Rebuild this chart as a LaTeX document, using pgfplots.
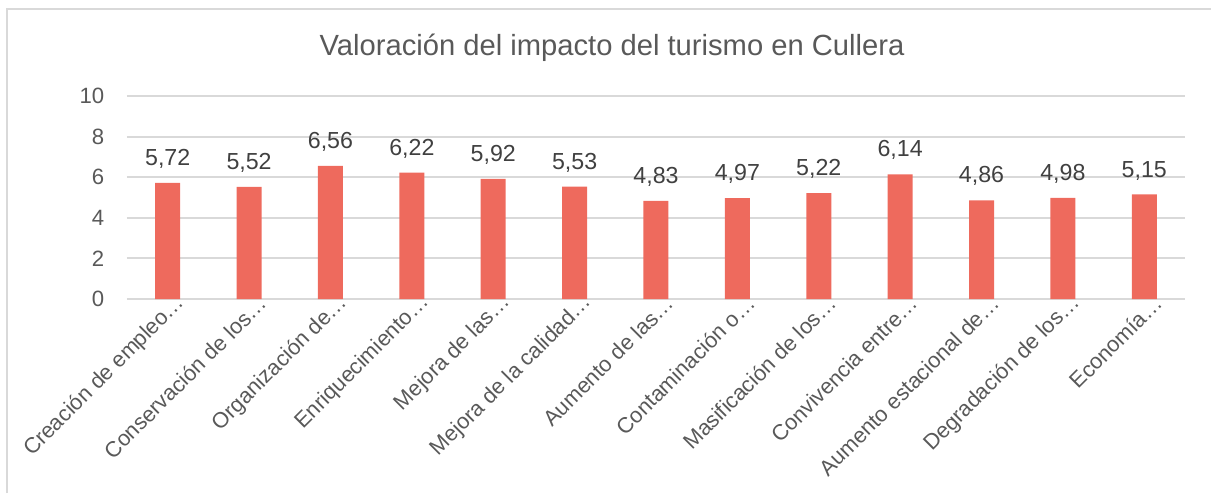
\documentclass[border=0pt]{standalone}
\usepackage{pgfplots}
\pgfplotsset{compat=1.18}
\usepackage{fontspec}
\setmainfont{Liberation Sans}
\definecolor{barred}{HTML}{EE6A5D}
\definecolor{txtgray}{HTML}{595959}
\definecolor{gridgray}{HTML}{D9D9D9}

\begin{document}
\begin{tikzpicture}[x=1cm,y=1cm]
  % picture is 1211 x 493 px, 1 px = 0.01 cm
  \useasboundingbox (0,0) rectangle (12.11,4.93);
  \draw[gridgray, line width=0.6pt] (0.07,0) -- (0.07,4.84) -- (12.2,4.84);
  \node[txtgray, font=\fontsize{8.3}{10}\selectfont] at (6.12,4.45)
    {Valoración del impacto del turismo en Cullera};
  \begin{axis}[
      at={(1.27cm,1.94cm)}, anchor=south west,
      scale only axis, width=10.58cm, height=2.03cm,
      xmin=-0.5, xmax=12.5, ymin=0, ymax=10,
      ytick={0,2,...,10},
      xtick={0,...,12},
      xticklabels={Creación de empleo…, Conservación de los…, Organización de…,
        Enriquecimiento…, Mejora de las…, Mejora de la calidad…, Aumento de las…,
        Contaminación o…, Masificación de los…, Convivencia entre…,
        Aumento estacional de…, Degradación de los…, Economía…},
      axis line style={draw=none},
      major tick length=0pt,
      ymajorgrids, grid style={gridgray, line width=0.6pt},
      /pgf/number format/assume math mode=true,
      tick label style={txtgray, font=\fontsize{6.3}{7}\selectfont},
      yticklabel style={anchor=east, inner sep=0pt, xshift=-0.22cm},
      xticklabel style={rotate=45, anchor=east, inner sep=0pt, xshift=0.10cm, yshift=-0.10cm,
        font=\fontsize{6.2}{7}\selectfont},
      nodes near coords,
      nodes near coords style={text=black!75, font=\fontsize{6.6}{7}\selectfont, yshift=0.02cm,
        /pgf/number format/fixed, /pgf/number format/fixed zerofill,
        /pgf/number format/precision=2, /pgf/number format/use comma},
      clip=false,
    ]
    \addplot[ybar, bar width=0.25cm, fill=barred, draw=none] coordinates {
      (0,5.72) (1,5.52) (2,6.56) (3,6.22) (4,5.92) (5,5.53) (6,4.83)
      (7,4.97) (8,5.22) (9,6.14) (10,4.86) (11,4.98) (12,5.15)
    };
  \end{axis}
\end{tikzpicture}
\end{document}
